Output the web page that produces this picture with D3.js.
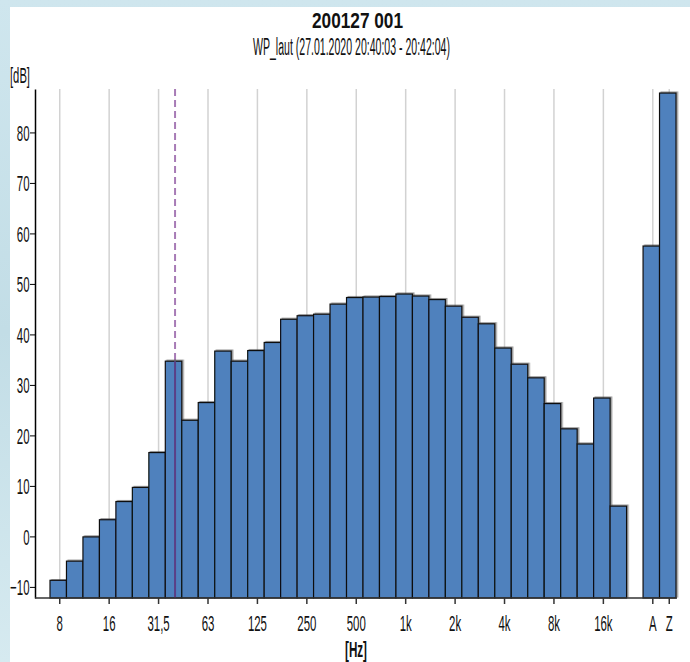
<!DOCTYPE html>
<html>
<head>
<meta charset="utf-8">
<script src="https://cdn.jsdelivr.net/npm/d3@7"></script>
<style>
  body { margin: 0; background: #fff; }
  svg text { font-family: "Liberation Sans", Arial, sans-serif; fill: #111; }
</style>
</head>
<body>
<svg id="chart"></svg>
<script>
// third-octave bands (Hz) and their levels in dB
const freqs = ["8","10","12,5","16","20","25","31,5","40","50","63","80","100","125","160","200",
  "250","315","400","500","630","800","1k","1,25k","1,6k","2k","2,5k","3,15k","4k","5k","6,3k",
  "8k","10k","12,5k","16k","20k"];
const levels = [-8.7,-4.9,-0.1,3.3,6.9,9.7,16.6,34.7,23.0,26.5,36.7,34.7,36.8,38.4,43.0,
  43.7,44.0,46.0,47.3,47.4,47.5,48.0,47.6,46.9,45.6,43.4,42.1,37.3,34.1,31.4,
  26.3,21.3,18.3,27.4,6.0];
// summed levels
const sumLabels = ["A","Z"];
const sumLevels = [57.5,87.8];
const tickLabels = ["8","16","31,5","63","125","250","500","1k","2k","4k","8k","16k","A","Z"];
const yTicks = [-10,0,10,20,30,40,50,60,70,80];
const markerBand = "40";

const W = 690, H = 662;
const narrow = 0.52; // the font in the picture is squeezed horizontally
const svg = d3.select("#chart").attr("width", W).attr("height", H);

// background frame
const defs = svg.append("defs");
const grad = defs.append("linearGradient").attr("id", "bg").attr("x1", 0).attr("y1", 0).attr("x2", 0).attr("y2", 1);
grad.append("stop").attr("offset", 0).attr("stop-color", "#cfe6ee");
grad.append("stop").attr("offset", 0.5).attr("stop-color", "#c2dde6");
grad.append("stop").attr("offset", 1).attr("stop-color", "#d6eaf0");
svg.append("rect").attr("width", W).attr("height", H).attr("fill", "url(#bg)");
svg.append("rect").attr("x", 10).attr("y", 7).attr("width", W - 10).attr("height", H - 7).attr("fill", "#fff");

const shadow = defs.append("filter").attr("id", "shadow").attr("x", "-20%").attr("y", "-5%").attr("width", "140%").attr("height", "110%");
shadow.append("feDropShadow").attr("dx", 1.5).attr("dy", -1).attr("stdDeviation", 0.6)
  .attr("flood-color", "#444").attr("flood-opacity", 0.55);

const slots = [...freqs, "gap", ...sumLabels];
const data = freqs.map((f, i) => ({ k: f, v: levels[i] }))
  .concat(sumLabels.map((s, i) => ({ k: s, v: sumLevels[i] })));

const x = d3.scaleBand().domain(slots).range([50, 676]).padding(0);
const y = d3.scaleLinear().domain([-12.2, 88.6]).range([598, 89]);
const tickShift = 1.5;

// titles (fitted to the widths in the picture)
function label(tx, ty, txt, size, len, bold) {
  svg.append("text").attr("x", tx).attr("y", ty)
    .attr("textLength", len).attr("lengthAdjust", "spacingAndGlyphs")
    .style("font-size", size + "px").style("font-weight", bold ? "bold" : "normal").text(txt);
}
label(312, 28, "200127 001", 22, 91, true);
label(253, 55, "WP_laut (27.01.2020 20:40:03 - 20:42:04)", 23, 197, false);
label(10, 83, "[dB]", 22, 20, false);
label(345, 657, "[Hz]", 22, 22, true);

// vertical grid
svg.append("g").selectAll("line").data(tickLabels).join("line")
  .attr("x1", d => x(d) + x.bandwidth() / 2 + tickShift)
  .attr("x2", d => x(d) + x.bandwidth() / 2 + tickShift)
  .attr("y1", y.range()[1]).attr("y2", y.range()[0])
  .attr("stroke", "#d2d2d2").attr("stroke-width", 1.5);

// marker dashed line
const mx = x(markerBand) + x.bandwidth() / 2 + tickShift;
svg.append("line").attr("x1", mx).attr("x2", mx).attr("y1", y.range()[1]).attr("y2", y.range()[0])
  .attr("stroke", "#a77bb6").attr("stroke-width", 2).attr("stroke-dasharray", "7,4");

// bars
svg.append("g").selectAll("rect").data(data).join("rect")
  .attr("x", d => x(d.k))
  .attr("width", x.bandwidth())
  .attr("y", d => y(d.v))
  .attr("height", d => y.range()[0] - y(d.v))
  .attr("fill", "#4f81bd")
  .attr("stroke", "#111")
  .attr("stroke-width", 1.2)
  .attr("filter", "url(#shadow)");

// marker line across the bar
const mv = levels[freqs.indexOf(markerBand)];
svg.append("line").attr("x1", mx).attr("x2", mx).attr("y1", y(mv)).attr("y2", y.range()[0])
  .attr("stroke", "#5b3f86").attr("stroke-width", 2);

// axes
const yAxis = d3.axisLeft(y).tickValues(yTicks).tickSize(5).tickSizeOuter(0).tickFormat(d3.format("d"));
const yG = svg.append("g").attr("transform", "translate(35,0)").call(yAxis);
yG.select(".domain").attr("stroke", "#000").attr("stroke-width", 1.5);
yG.selectAll(".tick line").attr("stroke", "#000");
yG.selectAll(".tick text").style("font-size", "22px")
  .attr("x", -5.5 / narrow).attr("dy", "0.36em").attr("transform", `scale(${narrow},1)`);

const xAxis = d3.axisBottom(x).tickValues(tickLabels).tickSize(6).tickSizeOuter(0);
const xG = svg.append("g").attr("transform", `translate(${tickShift},598)`).call(xAxis);
xG.select(".domain").remove();
xG.selectAll(".tick line").attr("stroke", "#333").attr("stroke-width", 1.5);
xG.selectAll(".tick text").style("font-size", "22px")
  .attr("y", 33).attr("dy", 0).attr("transform", `scale(${narrow},1)`);
svg.append("line").attr("x1", 35).attr("x2", 677).attr("y1", 598).attr("y2", 598)
  .attr("stroke", "#333").attr("stroke-width", 1.5);
</script>
</body>
</html>
